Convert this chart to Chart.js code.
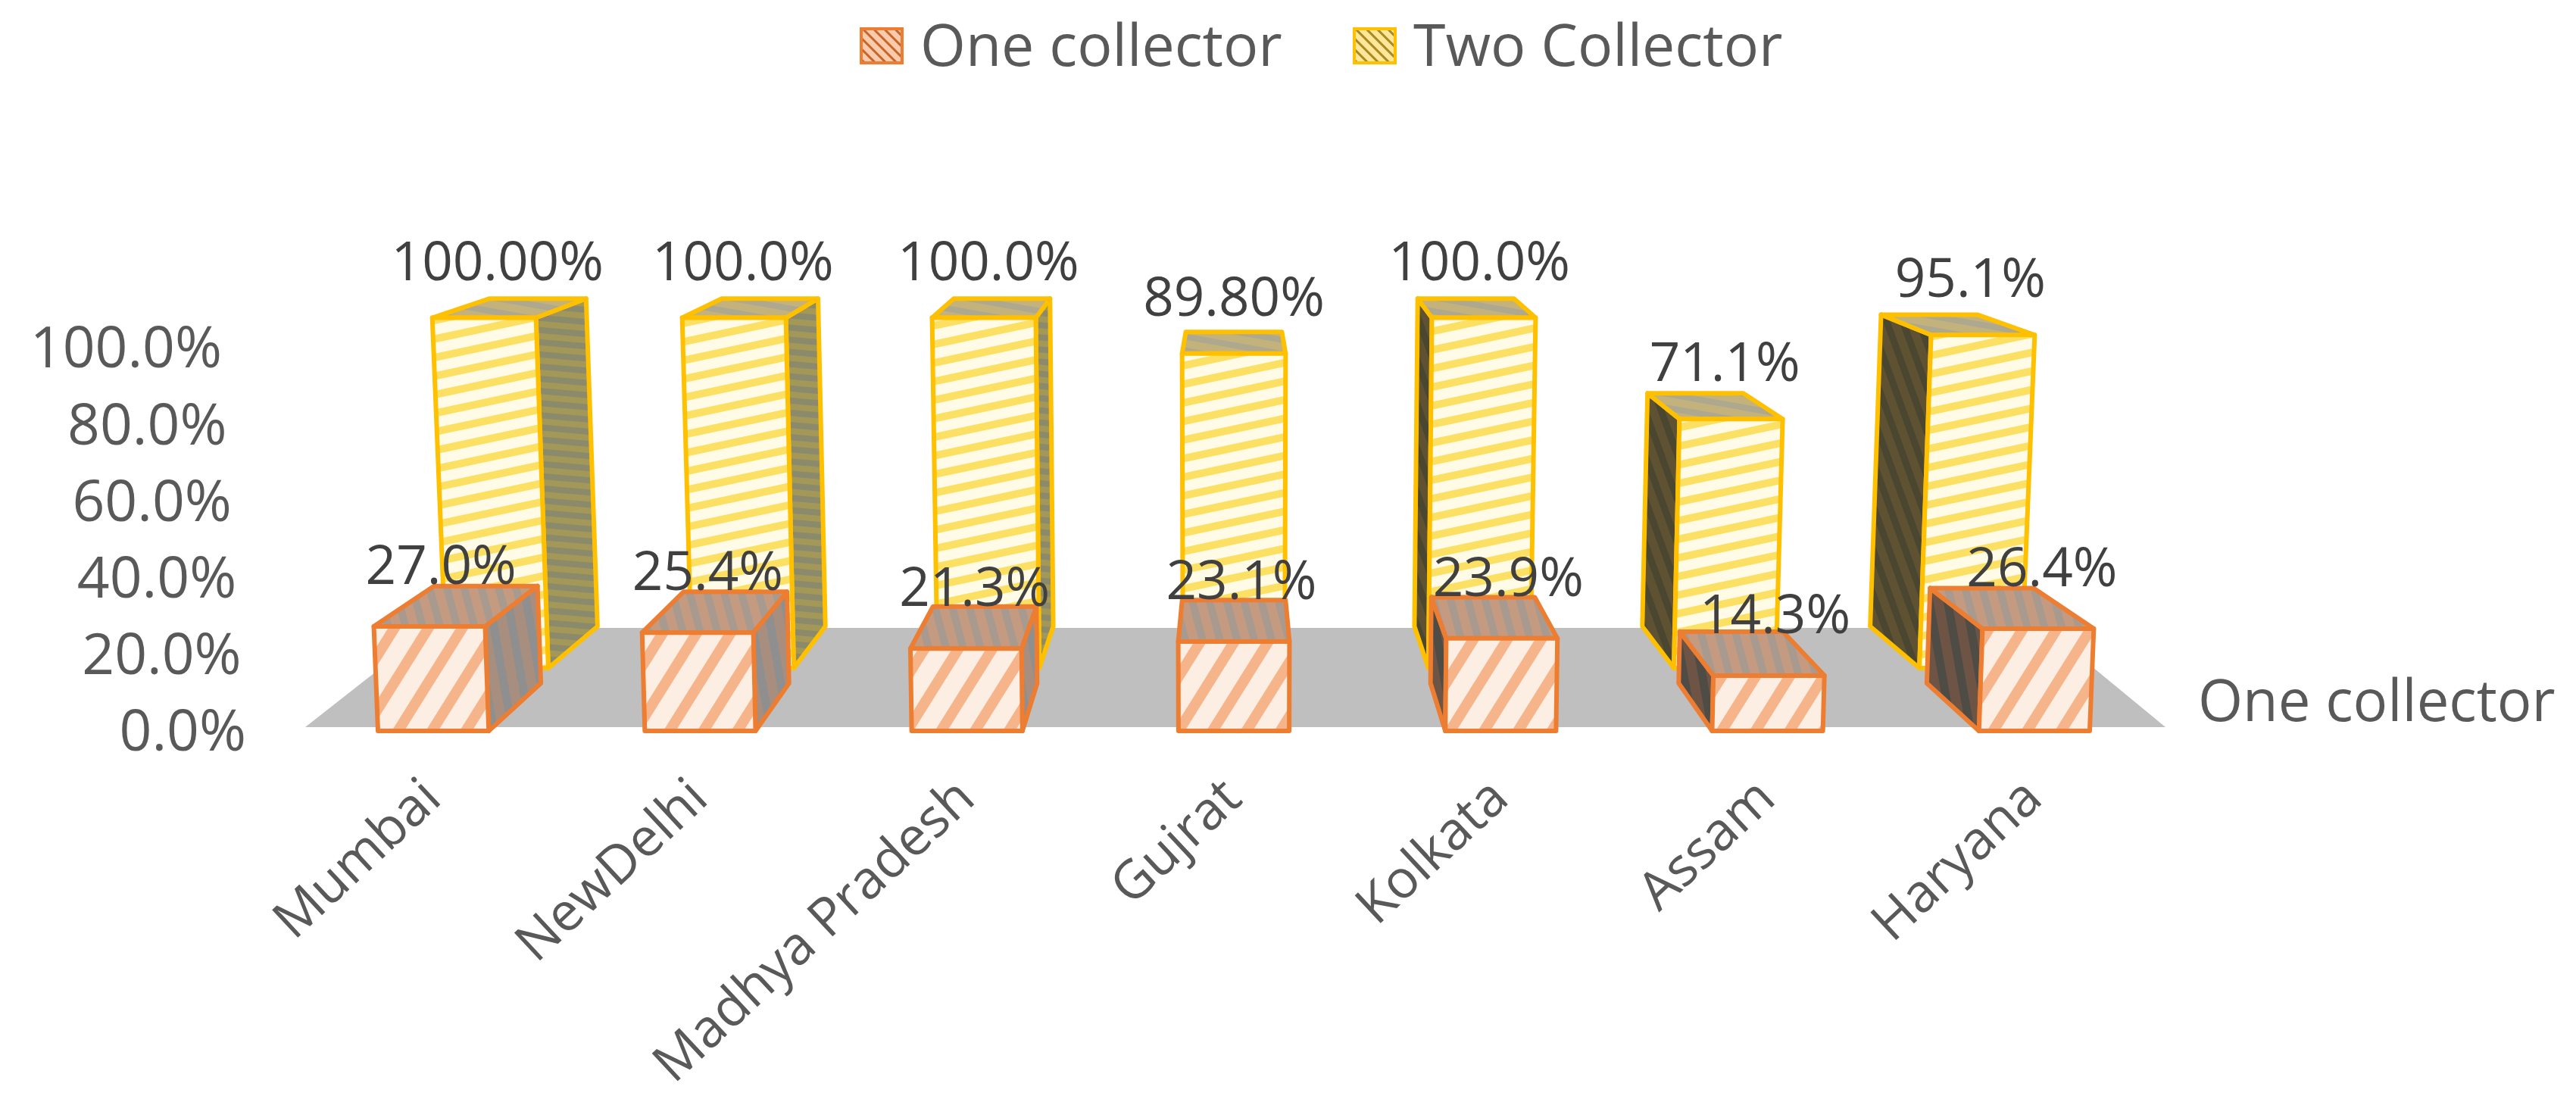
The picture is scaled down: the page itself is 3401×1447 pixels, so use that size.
<!DOCTYPE html>
<html>
<head>
<meta charset="utf-8">
<title>One and Two Collector</title>
<script src="https://cdn.jsdelivr.net/npm/chart.js@4"></script>
<style>
body { margin: 0; background: #fff; }
canvas { display: block; }
</style>
</head>
<body>
<canvas id="myChart1" width="3401" height="1447"></canvas>
<script>
const cities = ['Mumbai', 'NewDelhi', 'Madhya Pradesh', 'Gujrat', 'Kolkata', 'Assam', 'Haryana'];
const oneCollector = [27.0, 25.4, 21.3, 23.1, 23.9, 14.3, 26.4];
const twoCollector = [100, 100, 100, 89.8, 100, 71.1, 95.1];
const oneLabels = ['27.0%', '25.4%', '21.3%', '23.1%', '23.9%', '14.3%', '26.4%'];
const twoLabels = ['100.00%', '100.0%', '100.0%', '89.80%', '100.0%', '71.1%', '95.1%'];
const yTicks = [0, 20, 40, 60, 80, 100];

const fontName = '"Open Sans", "Noto Sans", sans-serif';

// striped fill, angle in degrees
function stripes(bg, fg, period, width, angle) {
    let c = document.createElement('canvas');
    c.width = 8;
    c.height = period;
    let g = c.getContext('2d');
    g.fillStyle = bg;
    g.fillRect(0, 0, 8, period);
    g.fillStyle = fg;
    g.fillRect(0, 0, 8, width);
    let p = g.createPattern(c, 'repeat');
    p.setTransform(new DOMMatrix().rotate(angle));
    return p;
}

const fills = {
    oneFront: stripes('#fdeee4', '#f6b48a', 38, 14, -58),
    oneTop: stripes('#c49a80', '#a99a90', 22, 10, 75),
    oneSideL: stripes('#a88e7e', '#8f8f8f', 24, 11, 80),
    oneSideR: stripes('#6d5445', '#4f4b45', 24, 11, 80),
    twoFront: stripes('#fffbe6', '#fbe064', 24, 10, -12),
    twoTop: stripes('#c4b27c', '#aea98e', 18, 8, 10),
    twoSideL: stripes('#a39858', '#8b8a6a', 16, 8, 5),
    twoSideR: stripes('#5e5232', '#4a4630', 20, 9, 70),
    legendOne: stripes('#f8cbad', '#c8652a', 10, 3, 45),
    legendTwo: stripes('#ffe699', '#a88a20', 10, 3, 45)
};

// perspective planes of the fake 3d box, front row and back row
const planes = {
    oneFront: { sx: 1, sy: 1, rise: 0 },
    oneBack: { sx: 0.93, sy: 0.93, rise: 63 },
    twoFront: { sx: 0.92, sy: 0.905, rise: 83 },
    twoBack: { sx: 0.854, sy: 0.847, rise: 138 }
};
const lean = 0.018;

function poly(ctx, pts, fill, stroke) {
    ctx.beginPath();
    pts.forEach((p, i) => i ? ctx.lineTo(p[0], p[1]) : ctx.moveTo(p[0], p[1]));
    ctx.closePath();
    ctx.fillStyle = fill;
    ctx.fill();
    ctx.lineWidth = 6;
    ctx.lineJoin = 'round';
    ctx.strokeStyle = stroke;
    ctx.stroke();
}

function drawBox(chart, el, value, front, back, f, stroke) {
    let cx = (chart.chartArea.left + chart.chartArea.right) / 2;
    let y0 = el.base;
    let h = y0 - el.y;
    let pt = (x, v, pl) => [
        cx + (x - cx) * pl.sx * (1 + lean * v / 100),
        y0 - pl.rise - (v > 0 ? h : 0) * pl.sy
    ];
    let xl = el.x - el.width / 2;
    let xr = el.x + el.width / 2;
    let ctx = chart.ctx;
    if (xr < cx) {
        poly(ctx, [pt(xr, 0, front), pt(xr, value, front), pt(xr, value, back), pt(xr, 0, back)], f.sideL, stroke);
    }
    if (xl > cx) {
        poly(ctx, [pt(xl, 0, front), pt(xl, value, front), pt(xl, value, back), pt(xl, 0, back)], f.sideR, stroke);
    }
    poly(ctx, [pt(xl, value, front), pt(xr, value, front), pt(xr, value, back), pt(xl, value, back)], f.top, stroke);
    poly(ctx, [pt(xl, 0, front), pt(xr, 0, front), pt(xr, value, front), pt(xl, value, front)], f.front, stroke);
}

function drawLegend(chart) {
    let ctx = chart.ctx;
    let sets = chart.data.datasets;
    [1137, 1788].forEach((x, i) => {
        ctx.fillStyle = sets[i].backgroundColor;
        ctx.fillRect(x, 38, 54, 45);
        ctx.lineWidth = 4;
        ctx.strokeStyle = sets[i].borderColor;
        ctx.strokeRect(x, 38, 54, 45);
        ctx.fillStyle = '#595959';
        ctx.font = '77px ' + fontName;
        ctx.textAlign = 'left';
        ctx.fillText(sets[i].label, x + 78, 65);
    });
}

const box3d = {
    id: 'box3d',
    beforeDatasetsDraw(chart) {
        let ctx = chart.ctx;
        let a = chart.chartArea;
        let yz = chart.scales.y.getPixelForValue(0);
        ctx.save();
        ctx.beginPath();
        ctx.moveTo(a.left + 7, yz - 5);
        ctx.lineTo(a.right - 3, yz - 5);
        ctx.lineTo(a.right - 162, yz - 136);
        ctx.lineTo(a.left + 174, yz - 136);
        ctx.closePath();
        ctx.fillStyle = '#bfbfbf';
        ctx.fill();
        chart.getDatasetMeta(1).data.forEach((el, i) => {
            drawBox(chart, el, twoCollector[i], planes.twoFront, planes.twoBack,
                { front: fills.twoFront, top: fills.twoTop, sideL: fills.twoSideL, sideR: fills.twoSideR }, '#ffc000');
        });
        chart.getDatasetMeta(0).data.forEach((el, i) => {
            drawBox(chart, el, oneCollector[i], planes.oneFront, planes.oneBack,
                { front: fills.oneFront, top: fills.oneTop, sideL: fills.oneSideL, sideR: fills.oneSideR }, '#ed7d31');
        });
        ctx.restore();
    },
    // the boxes above replace the flat bars
    beforeDatasetDraw() {
        return false;
    },
    afterDatasetsDraw(chart) {
        let ctx = chart.ctx;
        let cx = (chart.chartArea.left + chart.chartArea.right) / 2;
        let y = chart.scales.y;
        ctx.save();
        ctx.font = '71px ' + fontName;
        ctx.textBaseline = 'middle';
        ctx.textAlign = 'center';
        ctx.fillStyle = '#404040';
        let two = planes.twoFront;
        chart.getDatasetMeta(1).data.forEach((el, i) => {
            let top = el.base - two.rise - (el.base - el.y) * two.sy;
            ctx.fillText(twoLabels[i], cx + (el.x - cx) * two.sx, top - 70);
        });
        chart.getDatasetMeta(0).data.forEach((el, i) => {
            ctx.fillText(oneLabels[i], el.x + 10, el.y - 76);
        });
        // value axis labels follow the slanted floor
        ctx.font = '75px ' + fontName;
        ctx.textAlign = 'right';
        ctx.fillStyle = '#595959';
        yTicks.forEach(v => {
            ctx.fillText(v.toFixed(1) + '%', 325 - 0.32 * v, y.getPixelForValue(v) + 5 + 0.05 * v);
        });
        ctx.textAlign = 'left';
        ctx.font = '76px ' + fontName;
        ctx.fillText(chart.data.datasets[0].label, 2902, 930);
        drawLegend(chart);
        ctx.restore();
    }
};

let myChart1 = document.getElementById('myChart1').getContext('2d');
let test1 = new Chart(myChart1, {
    type: 'bar',
    data: {
        labels: cities,
        datasets: [{
            label: 'One collector',
            data: oneCollector,
            backgroundColor: fills.legendOne,
            borderColor: '#ed7d31',
            borderWidth: 3
        }, {
            label: 'Two Collector',
            data: twoCollector,
            backgroundColor: fills.legendTwo,
            borderColor: '#ffc000',
            borderWidth: 3
        }]
    },
    options: {
        responsive: false,
        animation: false,
        layout: {
            padding: { left: 84, right: 539 }
        },
        datasets: {
            bar: { grouped: false, categoryPercentage: 1, barPercentage: 0.415 }
        },
        plugins: {
            legend: { display: false },
            tooltip: { enabled: false }
        },
        scales: {
            x: {
                grid: { display: false },
                border: { display: false },
                afterFit(scale) { scale.height = 482; },
                ticks: {
                    font: { family: fontName, size: 70 },
                    color: '#595959',
                    minRotation: 43,
                    maxRotation: 43,
                    autoSkip: false,
                    padding: 40
                }
            },
            y: {
                min: 0,
                max: 188.85,
                grid: { display: false },
                border: { display: false },
                afterFit(scale) { scale.width = 312; },
                ticks: { display: false }
            }
        }
    },
    plugins: [box3d]
});
</script>
</body>
</html>
